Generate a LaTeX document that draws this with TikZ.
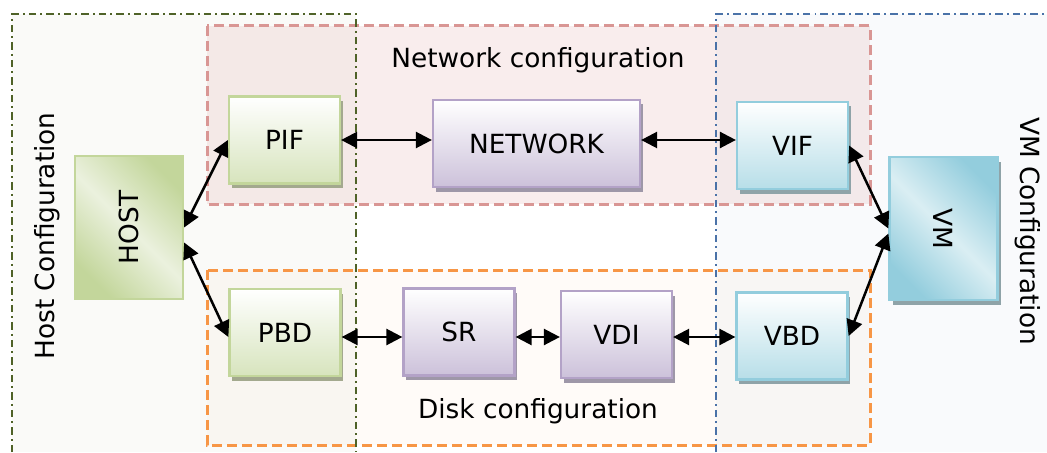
\documentclass[tikz,border=0pt]{standalone}
\usepackage{fontspec}
\setmainfont{DejaVu Sans}
\usepackage{graphicx}
\usepackage{tikz}
\usetikzlibrary{arrows.meta,shadows,calc}
\definecolor{hostline}{HTML}{4F6228}
\definecolor{hostfill}{HTML}{FAFAF8}
\definecolor{vmline}{HTML}{4A72A8}
\definecolor{vmfill}{HTML}{F9FAFC}
\definecolor{netline}{HTML}{D99694}
\definecolor{diskline}{HTML}{F79646}
\definecolor{greenline}{HTML}{C3D69B}
\definecolor{greenbot}{HTML}{D7E4BD}
\definecolor{greenlight}{HTML}{EBF1DE}
\definecolor{greenshadow}{HTML}{A3A98E}
\definecolor{purpleline}{HTML}{B3A2C7}
\definecolor{purplebot}{HTML}{CCC1DA}
\definecolor{purpleshadow}{HTML}{9E97A8}
\definecolor{blueline}{HTML}{93CDDD}
\definecolor{bluebot}{HTML}{B7DEE8}
\definecolor{bluelight}{HTML}{DAEEF3}
\definecolor{blueshadow}{HTML}{8FA3A8}

\begin{document}
\begin{tikzpicture}[
  labeltext/.style={font=\fontsize{15}{17}\selectfont},
  box/.style={labeltext, line width=0.045cm, minimum width=2.22cm, minimum height=1.74cm, top color=white},
  greenbox/.style={box, draw=greenline, bottom color=greenbot, drop shadow={shadow xshift=0.05cm, shadow yshift=-0.09cm, fill=greenshadow, opacity=1}},
  purplebox/.style={box, draw=purpleline, bottom color=purplebot, drop shadow={shadow xshift=0.05cm, shadow yshift=-0.09cm, fill=purpleshadow, opacity=1}},
  bluebox/.style={box, draw=blueline, bottom color=bluebot, drop shadow={shadow xshift=0.05cm, shadow yshift=-0.09cm, fill=blueshadow, opacity=1}},
  bigbox/.style={labeltext, line width=0.045cm, minimum width=2.16cm, minimum height=2.86cm},
  dashdot/.style={line width=0.04cm, dash pattern=on 0.15cm off 0.08cm on 0.04cm off 0.08cm},
  groupline/.style={line width=0.06cm, dash pattern=on 0.2cm off 0.1cm},
  link/.style={{Triangle[length=0.32cm,width=0.32cm]}-{Triangle[length=0.32cm,width=0.32cm]}, line width=0.05cm},
]
\useasboundingbox (0cm,0cm) rectangle (20.94cm,-9.04cm);
\fill[hostfill] (0.24cm,-0.28cm) rectangle (7.12cm,-9.04cm);
\fill[vmfill] (14.32cm,-0.28cm) rectangle (20.94cm,-9.04cm);
\filldraw[groupline, draw=netline, fill=netline, fill opacity=0.17] (4.14cm,-0.52cm) rectangle (17.40cm,-4.08cm);
\filldraw[groupline, draw=diskline, fill=diskline, fill opacity=0.04] (4.14cm,-5.40cm) rectangle (17.40cm,-8.90cm);
\draw[dashdot, hostline] (0.24cm,-9.04cm) -- (0.24cm,-0.28cm) -- (7.12cm,-0.28cm) -- (7.12cm,-9.04cm);
\draw[dashdot, vmline] (14.32cm,-9.04cm) -- (14.32cm,-0.28cm) -- (20.94cm,-0.28cm);
\node[labeltext] (netlabel) at (10.76cm,-1.20cm) {Network configuration};
\node[labeltext] (disklabel) at (10.76cm,-8.22cm) {Disk configuration};
\node[labeltext, rotate=90] (hostlabel) at (0.94cm,-4.72cm) {Host Configuration};
\node[labeltext, rotate=-90] (vmlabel) at (20.55cm,-4.62cm) {VM Configuration};
\node[bigbox, draw=greenline, left color=greenline, right color=greenline, middle color=greenlight, shading angle=135] (host) at (2.58cm,-4.55cm) {\rotatebox{90}{HOST}};
\node[bigbox, draw=blueline, left color=blueline, right color=blueline, middle color=bluelight, shading angle=135, drop shadow={shadow xshift=0.06cm, shadow yshift=-0.1cm, fill=blueshadow, opacity=1}] (vm) at (18.87cm,-4.57cm) {\rotatebox{-90}{VM}};
\node[greenbox] (pif) at (5.69cm,-2.80cm) {PIF};
\node[purplebox, minimum width=4.14cm] (network) at (10.73cm,-2.87cm) {NETWORK};
\node[bluebox] (vif) at (15.85cm,-2.91cm) {VIF};
\node[greenbox] (pbd) at (5.70cm,-6.65cm) {PBD};
\node[purplebox] (sr) at (9.18cm,-6.64cm) {SR};
\node[purplebox] (vdi) at (12.33cm,-6.69cm) {VDI};
\node[bluebox] (vbd) at (15.84cm,-6.72cm) {VBD};
\draw[link] (host.east) -- (pif.west);
\draw[link] ([yshift=-0.3cm]host.east) -- ([yshift=-0.09cm]pbd.west);
\draw[link] (pif.east) -- (pif.east -| network.west);
\draw[link] (pif.east -| network.east) -- (pif.east -| vif.west);
\draw[link] ([yshift=-0.09cm]pbd.east) -- ([yshift=-0.09cm]pbd.east -| sr.west);
\draw[link] ([yshift=-0.09cm]pbd.east -| sr.east) -- ([yshift=-0.09cm]pbd.east -| vdi.west);
\draw[link] ([yshift=-0.09cm]pbd.east -| vdi.east) -- ([yshift=-0.09cm]pbd.east -| vbd.west);
\draw[link] (vif.east) -- (vm.west);
\draw[link] (vbd.east) -- ([yshift=-0.1cm]vm.west);
\end{tikzpicture}
\end{document}
